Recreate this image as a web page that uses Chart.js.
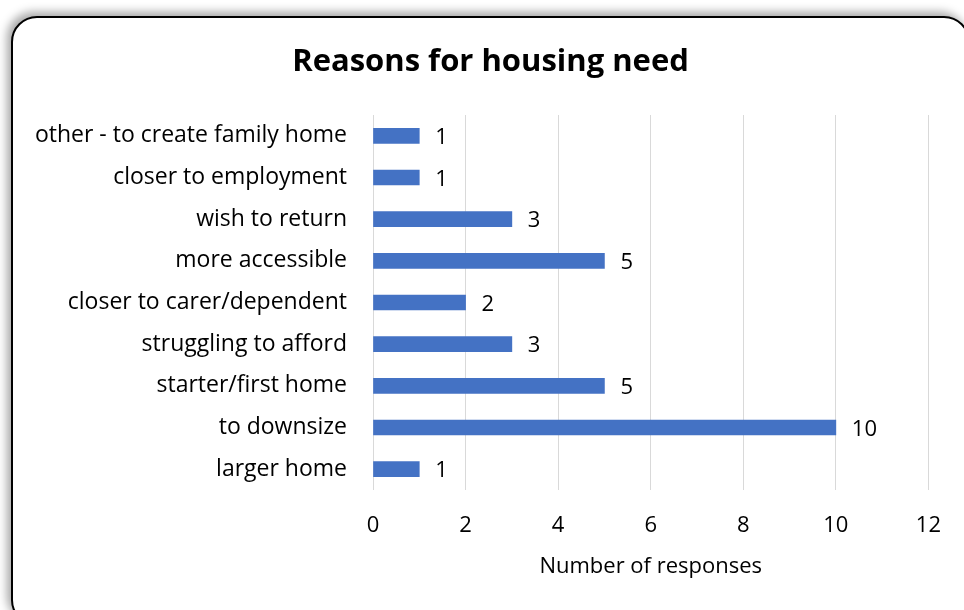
<!DOCTYPE html>
<html>
<head>
<meta charset="utf-8">
<script src="https://cdn.jsdelivr.net/npm/chart.js@4.4.1/dist/chart.umd.min.js"></script>
<style>
  html, body { margin: 0; padding: 0; background: #fff; overflow: hidden; }
  #frame {
    position: absolute; left: 11px; top: 16px; width: 959px; height: 610px;
    border: 2px solid #000; border-radius: 26px; box-sizing: border-box;
    box-shadow: -4px -4px 10px rgba(0,0,0,0.35);
    background: #fff;
  }
  #wrap { position: absolute; left: 0; top: 0; width: 964px; height: 610px; }
</style>
</head>
<body>
<div id="frame"></div>
<div id="wrap"><canvas id="c" width="964" height="610"></canvas></div>
<script>
const categories = [
  'other - to create family home',
  'closer to employment',
  'wish to return',
  'more accessible',
  'closer to carer/dependent',
  'struggling to afford',
  'starter/first home',
  'to downsize',
  'larger home'
];
const responses = [1, 1, 3, 5, 2, 3, 5, 10, 1];
const xTicks = [0, 2, 4, 6, 8, 10, 12];
const TITLE = 'Reasons for housing need';

const FONT = '"Open Sans", Lato, sans-serif';
const TEXT = '#000';
// title is centred on the rounded frame, not on the canvas
const FRAME_LEFT = 11, FRAME_WIDTH = 959;

// draws value labels right of each bar + the chart title
const annotate = {
  id: 'annotate',
  afterDatasetsDraw(chart) {
    const ctx = chart.ctx;
    const meta = chart.getDatasetMeta(0);
    ctx.save();
    ctx.font = `22px ${FONT}`;
    ctx.fillStyle = TEXT;
    ctx.textAlign = 'left';
    ctx.textBaseline = 'middle';
    meta.data.forEach((bar, i) => {
      ctx.fillText(String(responses[i]), bar.x + 16, bar.y + 2);
    });
    ctx.font = `bold 31px ${FONT}`;
    ctx.textAlign = 'center';
    ctx.fillText(TITLE, FRAME_LEFT + FRAME_WIDTH / 2, 62);
    ctx.restore();
  }
};

new Chart(document.getElementById('c'), {
  type: 'bar',
  data: {
    labels: categories,
    datasets: [{
      data: responses,
      backgroundColor: '#4472C4',
      barThickness: 15
    }]
  },
  options: {
    indexAxis: 'y',
    responsive: false,
    animation: false,
    layout: { padding: { left: 0, right: 35, top: 115, bottom: 0 } },
    plugins: {
      legend: { display: false },
      tooltip: { enabled: false },
      title: { display: false }
    },
    scales: {
      x: {
        min: 0, max: 12,
        afterFit(scale) { scale.height = 120; },
        afterBuildTicks(scale) { scale.ticks = xTicks.map(v => ({ value: v })); },
        grid: { color: '#d9d9d9', lineWidth: 1, drawTicks: false },
        border: { display: false },
        ticks: { color: TEXT, padding: 23, font: { family: FONT, size: 22 } },
        title: {
          display: true,
          text: 'Number of responses',
          color: TEXT,
          font: { family: FONT, size: 22 },
          padding: { top: 4, bottom: 30 }
        }
      },
      y: {
        afterFit(scale) { scale.width = 373; },
        grid: { display: false },
        border: { display: false },
        ticks: { color: TEXT, padding: 18, font: { family: FONT, size: 23 } }
      }
    }
  },
  plugins: [annotate]
});
</script>
</body>
</html>
